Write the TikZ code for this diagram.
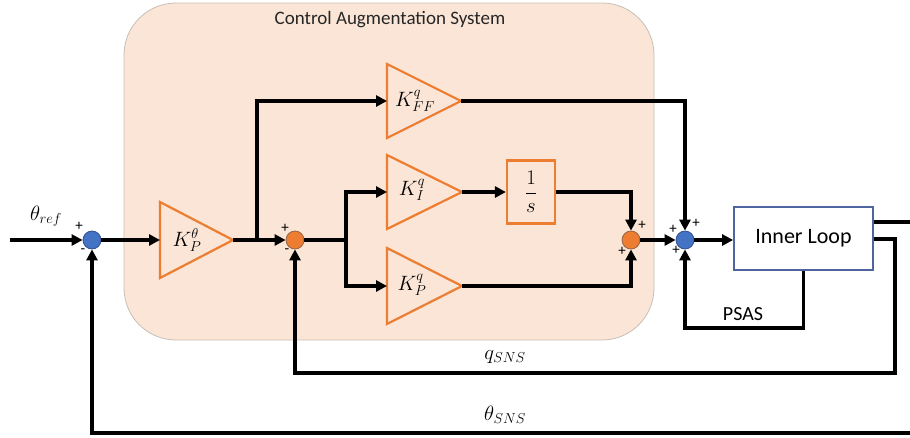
\documentclass[tikz,border=0pt]{standalone}
\usepackage{fontspec}
\setmainfont{Carlito}
\usetikzlibrary{arrows.meta}
\definecolor{casfill}{RGB}{251,229,214}
\definecolor{casedge}{RGB}{200,190,182}
\definecolor{gorange}{RGB}{237,125,49}
\definecolor{sblue}{RGB}{68,114,196}
\definecolor{sblueedge}{RGB}{47,82,143}
\definecolor{sorangeedge}{RGB}{150,100,70}
\definecolor{boxedge}{RGB}{80,100,160}
\begin{document}
\begin{tikzpicture}[x=1pt,y=-1pt,
  wire/.style={line width=3.4pt},
  arr/.style={wire,-{Triangle[length=11pt,width=11pt]}},
  sumb/.style={circle,draw=sblueedge,fill=sblue,line width=0.8pt,minimum size=18pt,inner sep=0pt},
  sumo/.style={circle,draw=sorangeedge,fill=gorange,line width=0.8pt,minimum size=18pt,inner sep=0pt},
  gain/.style={draw=gorange,fill=casfill,line width=2.2pt,line join=miter},
  lbl/.style={inner sep=0pt,font=\fontsize{21}{23}\selectfont},
  sgn/.style={inner sep=0pt,font=\fontsize{15}{17}\selectfont},
  txt/.style={inner sep=0pt,font=\fontsize{20}{22}\selectfont}]
\useasboundingbox (0,0) rectangle (910,437);
% CAS background
\draw[fill=casfill,draw=casedge,line width=0.8pt,rounded corners=52pt] (124,3) rectangle (654,340);
\node[inner sep=0pt,text=black!85,font=\fontsize{19}{21}\selectfont] (title) at (390,20) {Control Augmentation System};
% gains
\draw[gain] (160,202) -- (233,240) -- (160,278) -- cycle;
\coordinate (kpthIn) at (160,240); \coordinate (kpthOut) at (233,240);
\node[lbl] (kpth) at (187,240) {$K_P^{\theta}$};
\draw[gain] (387,64) -- (461,101) -- (387,138) -- cycle;
\coordinate (kffIn) at (387,101); \coordinate (kffOut) at (461,101);
\node[lbl] (kff) at (415,101) {$K_{FF}^{q}$};
\draw[gain] (387,155) -- (462,192) -- (387,229) -- cycle;
\coordinate (kiIn) at (387,192); \coordinate (kiOut) at (462,192);
\node[lbl] (ki) at (412,190) {$K_{I}^{q}$};
\draw[gain] (387,248) -- (462,286) -- (387,324) -- cycle;
\coordinate (kpqIn) at (387,286); \coordinate (kpqOut) at (462,286);
\node[lbl] (kpq) at (412,285) {$K_{P}^{q}$};
\node[draw=gorange,fill=casfill,line width=2.2pt,minimum width=48pt,minimum height=63pt,inner sep=0pt,font=\fontsize{21}{23}\selectfont] (integ) at (531,192) {$\displaystyle\frac{1}{s}$};
% summers
\node[sumb] (s1) at (92,240) {};
\node[sumo] (s2) at (295,240) {};
\node[sumo] (s3) at (631,240) {};
\node[sumb] (s4) at (685,240) {};
\node[draw=boxedge,fill=white,line width=1.8pt,minimum width=139pt,minimum height=63pt,inner sep=0pt,font=\fontsize{22}{24}\selectfont] (inner) at (803.5,238.5) {Inner Loop};
% coordinates
\coordinate (in) at (10,240);
\coordinate (b1) at (257,240);
\coordinate (b2) at (346,240);
\coordinate (out1) at (910,222);
\coordinate (qa) at (895,239);
\coordinate (qb) at (895,373);
\coordinate (ps) at (803.5,328);
\coordinate (thR) at (910,433);
% wires
\draw[arr] (in) -- (s1);
\draw[arr] (s1) -- (kpthIn);
\draw[arr] (kpthOut) -- (s2);
\draw[arr] (b1) |- (kffIn);
\draw[wire] (s2) -- (b2);
\draw[arr] (b2) |- (kiIn);
\draw[arr] (b2) |- (kpqIn);
\draw[arr] (kiOut) -- (integ);
\draw[arr] (integ) -| (s3);
\draw[arr] (kpqOut) -| (s3);
\draw[arr] (s3) -- (s4);
\draw[arr] (kffOut) -| (s4);
\draw[arr] (s4.east) -- (inner.west |- s4.east);
\draw[wire] (inner.east |- out1) -- (out1);
\draw[arr] (inner.east |- qa) -- (qa) -- (qb) -| (s2);
\draw[arr] (thR) -| (s1);
\draw[arr] (inner.south) -- (ps) -| (s4);
% labels
\node[lbl] (thref) at (46,216) {$\theta_{ref}$};
\node[lbl] (qsns) at (505,357) {$q_{SNS}$};
\node[lbl] (thsns) at (505,415) {$\theta_{SNS}$};
\node[txt] (psas) at (743,314) {PSAS};
% signs
\node[sgn] at (79,226) {+};
\node[sgn] at (83,251) {-};
\node[sgn] at (285,228) {+};
\node[sgn] at (287,251) {-};
\node[sgn] at (642,225) {+};
\node[sgn] at (622,251) {+};
\node[sgn] at (673,229) {+};
\node[sgn] at (696,223) {+};
\node[sgn] at (676,250) {+};
\end{tikzpicture}
\end{document}
